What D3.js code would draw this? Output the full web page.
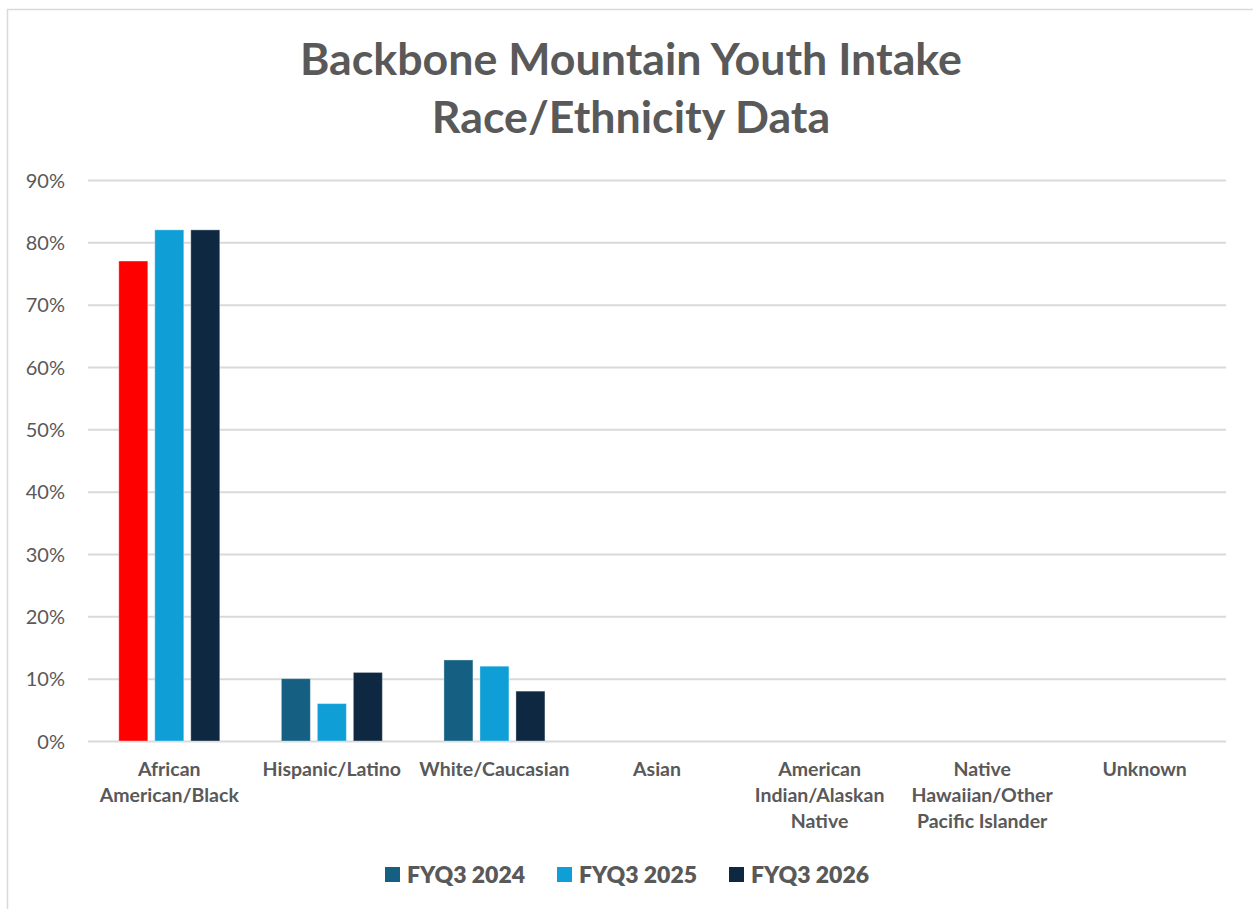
<!DOCTYPE html>
<html>
<head>
<meta charset="utf-8">
<script src="https://cdn.jsdelivr.net/npm/d3@7"></script>
<style>
  html, body { margin: 0; padding: 0; background: #fff; }
  svg { display: block; }
</style>
</head>
<body>
<svg id="chart" width="1253" height="909"></svg>
<script>
// Race/ethnicity share of youth intakes, by fiscal-year Q3
const categories = [
  ["African", "American/Black"],
  ["Hispanic/Latino"],
  ["White/Caucasian"],
  ["Asian"],
  ["American", "Indian/Alaskan", "Native"],
  ["Native", "Hawaiian/Other", "Pacific Islander"],
  ["Unknown"]
];
const seriesNames = ["FYQ3 2024", "FYQ3 2025", "FYQ3 2026"];
const fy2024 = [0.77, 0.10, 0.13, 0, 0, 0, 0];
const fy2025 = [0.82, 0.06, 0.12, 0, 0, 0, 0];
const fy2026 = [0.82, 0.11, 0.08, 0, 0, 0, 0];
const seriesColors = ["#156082", "#0F9ED5", "#0E2841"];
// the first point of the 2024 series is highlighted in red
const highlight = { series: 0, index: 0, color: "#FF0000" };
const yTicks = [0, 0.1, 0.2, 0.3, 0.4, 0.5, 0.6, 0.7, 0.8, 0.9];
const titleLines = ["Backbone Mountain Youth Intake", "Race/Ethnicity Data"];

const series = [fy2024, fy2025, fy2026];
const svg = d3.select("#chart");
const textColor = "#595959";
const font = "Lato, 'Open Sans', sans-serif";

// chart frame
svg.append("rect")
  .attr("x", 7.5).attr("y", 9.5)
  .attr("width", 1300).attr("height", 1000)
  .attr("fill", "none").attr("stroke", "#d9d9d9").attr("stroke-width", 1.5);

const plot = { left: 88, right: 1226, top: 180, bottom: 741 };

const x = d3.scaleBand()
  .domain(d3.range(categories.length))
  .range([plot.left, plot.right])
  .paddingInner(0).paddingOuter(0);

const y = d3.scaleLinear().domain([0, 0.9]).range([plot.bottom, plot.top]);

// title
const title = svg.append("text")
  .attr("text-anchor", "middle")
  .attr("font-family", font)
  .attr("font-weight", 700)
  .attr("font-size", 42)
  .attr("fill", textColor);
title.selectAll("tspan").data(titleLines).join("tspan")
  .attr("x", 631)
  .attr("y", (d, i) => 75 + i * 58)
  .text(d => d);
// fit the first title line to its width
{
  const t = title.select("tspan").node().getComputedTextLength();
  const fs = 42 * 662 / t;
  title.attr("font-size", fs);
}

// gridlines + y axis
const yAxis = d3.axisLeft(y)
  .tickValues(yTicks)
  .tickFormat(d3.format(".0%"))
  .tickSize(-(plot.right - plot.left))
  .tickPadding(23);
const yg = svg.append("g")
  .attr("transform", `translate(${plot.left},0)`)
  .call(yAxis);
yg.select(".domain").remove();
yg.selectAll(".tick line").attr("stroke", "#d9d9d9").attr("stroke-width", 2);
yg.selectAll(".tick text")
  .attr("font-family", font)
  .attr("font-size", 20)
  .attr("fill", textColor)
  .attr("dy", "0.35em");

// bars
const barW = 29, gap = 7;
const groupW = barW * 3 + gap * 2;
const bars = [];
series.forEach((vals, s) => {
  vals.forEach((v, i) => {
    bars.push({ s, i, v });
  });
});
svg.append("g").selectAll("rect").data(bars.filter(d => d.v > 0)).join("rect")
  .attr("x", d => x(d.i) + x.bandwidth() / 2 - groupW / 2 + d.s * (barW + gap))
  .attr("y", d => y(d.v))
  .attr("width", barW)
  .attr("height", d => y(0) - y(d.v))
  .attr("fill", d => (d.s === highlight.series && d.i === highlight.index) ? highlight.color : seriesColors[d.s])
  .attr("stroke", "rgba(255,255,255,0.35)")
  .attr("stroke-width", 1);

// category labels
const xl = svg.append("g");
categories.forEach((lines, i) => {
  const t = xl.append("text")
    .attr("text-anchor", "middle")
    .attr("font-family", font)
    .attr("font-weight", 700)
    .attr("font-size", 19.5)
    .attr("fill", textColor);
  lines.forEach((ln, k) => {
    t.append("tspan")
      .attr("x", x(i) + x.bandwidth() / 2)
      .attr("y", 776 + k * 26)
      .text(ln);
  });
});

// legend
const legendX = [385, 557, 729];
const lg = svg.append("g");
seriesNames.forEach((name, s) => {
  lg.append("rect")
    .attr("x", legendX[s]).attr("y", 867)
    .attr("width", 15).attr("height", 15)
    .attr("fill", seriesColors[s]);
  lg.append("text")
    .attr("x", legendX[s] + 22).attr("y", 883)
    .attr("font-family", font)
    .attr("font-weight", 800)
    .attr("font-size", 23)
    .attr("fill", textColor)
    .text(name);
});
</script>
</body>
</html>
